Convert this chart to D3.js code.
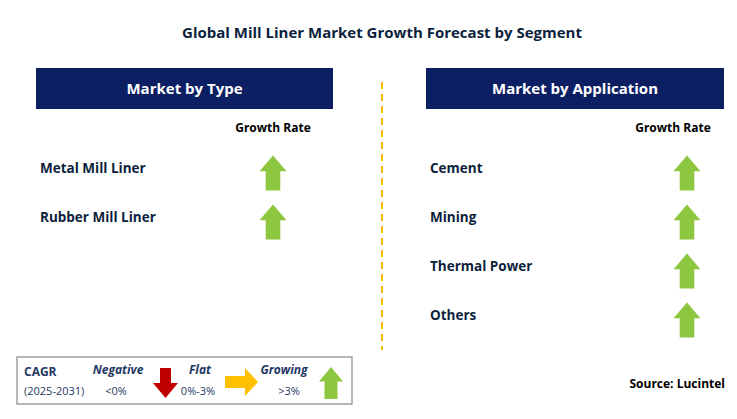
<!DOCTYPE html><html><head><meta charset="utf-8"><script src="https://cdn.jsdelivr.net/npm/d3@7"></script>
<style>body{margin:0;background:#fff}text{font-family:"Open Sans",sans-serif}</style></head><body>
<svg id="c" width="737" height="419"></svg>
<script>
const typeCategories=["Metal Mill Liner","Rubber Mill Liner"];
const typeGrowth=["Growing","Growing"];
const appCategories=["Cement","Mining","Thermal Power","Others"];
const appGrowth=["Growing","Growing","Growing","Growing"];
const legendLabels=["Negative","Flat","Growing"];
const legendRanges=["<0%","0%-3%",">3%"];
const svg=d3.select("#c");
const navy="#0d1f63", green="#8dc63f", txt="#0d1f3c";
svg.append("text").attr("x",382).attr("y",38).attr("text-anchor","middle").attr("font-size",15).attr("font-weight","bold").attr("fill",txt).text("Global Mill Liner Market Growth Forecast by Segment");
svg.append("line").attr("x1",382).attr("x2",382).attr("y1",82).attr("y2",350).attr("stroke","#f5b800").attr("stroke-width",2).attr("stroke-dasharray","7,5");
function up(g,cx,cy,w,h){const hw=w/2,sw=w*0.27,hh=h*0.45;
 g.append("path").attr("d",`M${cx},${cy-h/2}L${cx+hw},${cy-h/2+hh}L${cx+sw},${cy-h/2+hh}L${cx+sw},${cy+h/2}L${cx-sw},${cy+h/2}L${cx-sw},${cy-h/2+hh}L${cx-hw},${cy-h/2+hh}Z`).attr("fill",green);}
function panel(x0,x1,title,cats,arrowX,grX){
 svg.append("rect").attr("x",x0).attr("y",68).attr("width",x1-x0).attr("height",41).attr("fill",navy);
 svg.append("text").attr("x",(x0+x1)/2).attr("y",94).attr("text-anchor","middle").attr("fill","#fff").attr("font-size",15).attr("font-weight","bold").text(title);
 svg.append("text").attr("x",grX).attr("y",132).attr("text-anchor","middle").attr("font-size",12).attr("font-weight","bold").attr("fill","#000").text("Growth Rate");
 const y=d3.scalePoint().domain(cats).range([168,168+49*(cats.length-1)]);
 cats.forEach(c=>{svg.append("text").attr("x",x0+4).attr("y",y(c)+5).attr("font-size",13.5).attr("font-weight","bold").attr("fill",txt).text(c);
  up(svg,arrowX,y(c)+5,27,35);});
}
panel(36,333,"Market by Type",typeCategories,273,273);
panel(426,724,"Market by Application",appCategories,687,673);
svg.append("rect").attr("x",17).attr("y",357).attr("width",335).attr("height",47).attr("fill","#fff").attr("stroke","#888").attr("stroke-width",1.2);
svg.append("text").attr("x",24).attr("y",376).attr("font-size",12).attr("font-weight","bold").attr("fill","#1f3864").text("CAGR");
svg.append("text").attr("x",24).attr("y",395).attr("font-size",11).attr("fill","#1f3864").text("(2025-2031)");
const lx=[118,200,284];
legendLabels.forEach((l,i)=>{svg.append("text").attr("x",lx[i]).attr("y",374).attr("text-anchor","middle").attr("font-size",12).attr("font-weight","bold").attr("font-style","italic").attr("fill","#1f3864").text(l);
 svg.append("text").attr("x",lx[i]+(i==2?5:-2)).attr("y",395).attr("text-anchor","middle").attr("font-size",11).attr("fill","#1f3864").text(legendRanges[i]);});
svg.append("path").attr("d","M160,368L171,368L171,383L178,383L165.5,398L153,383L160,383Z").attr("fill","#c00000");
svg.append("path").attr("d","M225,376L245,376L245,368L258,382L245,396L245,388L225,388Z").attr("fill","#ffc000");
up(svg,331,383,24,32);
svg.append("text").attr("x",725).attr("y",388).attr("text-anchor","end").attr("font-size",12).attr("font-weight","bold").attr("fill","#000").text("Source: Lucintel");
</script></body></html>
